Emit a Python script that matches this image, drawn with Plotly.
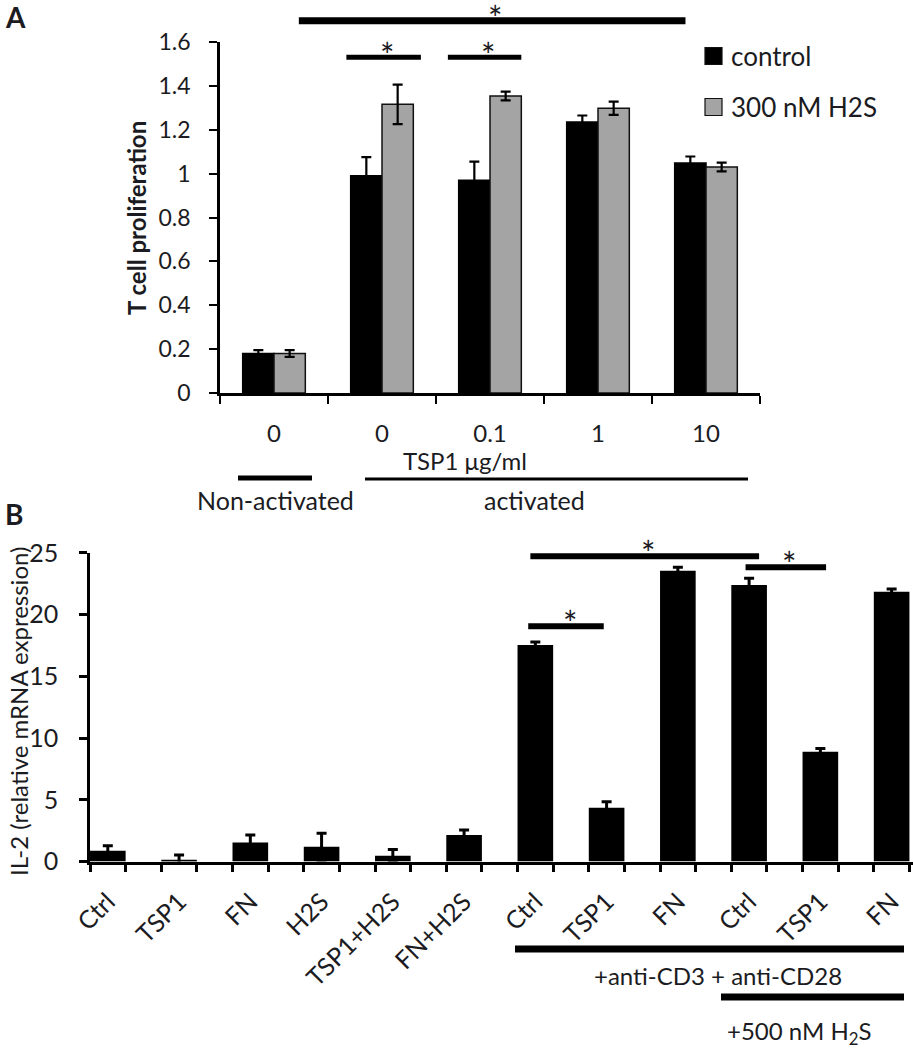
import numpy as np
import plotly.graph_objects as go

# ---------------- Panel A data ----------------
a_labels = ["0", "0", "0.1", "1", "10"]
a_control = [0.18, 0.99, 0.97, 1.235, 1.048]
a_control_err = [0.015, 0.085, 0.085, 0.03, 0.03]
a_h2s = [0.18, 1.316, 1.354, 1.298, 1.03]
a_h2s_err = [0.015, 0.09, 0.02, 0.03, 0.02]
a_series = ["control", "300 nM H2S"]
a_yticks = [0, 0.2, 0.4, 0.6, 0.8, 1, 1.2, 1.4, 1.6]
a_yticklabels = ["0", "0.2", "0.4", "0.6", "0.8", "1", "1.2", "1.4", "1.6"]

# significance comparisons, panel A (x in category units, y in data units)
a_sig_x0 = [0.23, 0.67, 1.61]
a_sig_x1 = [3.81, 1.36, 2.29]
a_sig_y = [1.697, 1.531, 1.531]

# ---------------- Panel B data ----------------
b_labels = ["Ctrl", "TSP1", "FN", "H2S", "TSP1+H2S", "FN+H2S",
            "Ctrl", "TSP1", "FN", "Ctrl", "TSP1", "FN"]
b_values = [0.88, 0.15, 1.53, 1.2, 0.47, 2.15,
            17.53, 4.36, 23.55, 22.39, 8.89, 21.85]
b_err = [0.4, 0.38, 0.62, 1.09, 0.5, 0.4,
         0.25, 0.48, 0.27, 0.55, 0.27, 0.22]
b_yticks = [0, 5, 10, 15, 20, 25]

# significance comparisons, panel B (x in bar-index units, y in data units)
b_sig_i0 = [5.9, 5.93, 8.95]
b_sig_i1 = [6.96, 9.14, 10.08]
b_sig_y = [19.06, 24.72, 23.83]

FONT = "Lato, 'Open Sans', sans-serif"
TXT = "#1b1b22"
W, H = 913, 1050


def PX(p):
    return p / W


def PY(p):
    return 1 - p / H


fig = go.Figure()

xa = np.arange(len(a_labels))
fig.add_trace(go.Bar(
    x=xa, y=a_control, name=a_series[0], xaxis="x", yaxis="y",
    marker=dict(color="#000000", line=dict(color="#000000", width=1.5)),
    error_y=dict(type="data", array=a_control_err, color="#000000", thickness=2.2, width=5),
    showlegend=False))
fig.add_trace(go.Bar(
    x=xa, y=a_h2s, name=a_series[1], xaxis="x", yaxis="y",
    marker=dict(color="#a4a4a4", line=dict(color="#111111", width=1.5)),
    error_y=dict(type="data", array=a_h2s_err, color="#000000", thickness=2.2, width=5),
    showlegend=False))

xb = np.arange(len(b_labels)) * 2
fig.add_trace(go.Bar(
    x=xb, y=b_values, xaxis="x2", yaxis="y2", width=1.0,
    marker=dict(color="#000000", line=dict(width=0)),
    error_y=dict(type="data", array=b_err, color="#000000", thickness=3, width=5),
    showlegend=False))

axis_line = dict(showline=True, linecolor="#000000", linewidth=2.5, showgrid=False,
                 zeroline=False, automargin=False)

fig.update_layout(
    width=W, height=H,
    margin=dict(l=0, r=0, t=0, b=0, autoexpand=False),
    paper_bgcolor="white", plot_bgcolor="white",
    font=dict(family=FONT, color=TXT),
    barmode="group", bargap=0.42, bargroupgap=0.0,
    xaxis=dict(domain=[PX(220), PX(760)], anchor="y", range=[-0.5, 4.5],
               tickmode="array", tickvals=list(xa), ticktext=a_labels, ticks="",
               ticklabelstandoff=17, tickfont=dict(size=24, color=TXT),
               minor=dict(tickmode="array", tickvals=list(np.arange(-0.5, len(a_labels), 1.0)),
                          ticks="outside", ticklen=8, tickwidth=2, tickcolor="#000000"),
               **axis_line),
    yaxis=dict(domain=[PY(393), PY(42)], anchor="x", range=[0, 1.6],
               tickmode="array", tickvals=a_yticks, ticktext=a_yticklabels,
               ticks="outside", ticklen=8, tickwidth=2, tickcolor="#000000",
               ticklabelstandoff=14, tickfont=dict(size=23, color=TXT), **axis_line),
    xaxis2=dict(domain=[PX(90), 1.0], anchor="y2", range=[-0.5, 22.6],
                tickmode="array", tickvals=list(xb), ticktext=b_labels, ticks="",
                tickangle=-45, ticklabelstandoff=13, tickfont=dict(size=25, color=TXT),
                minor=dict(tickmode="array", tickvals=list(np.arange(-0.5, 2*len(b_labels), 1.0)),
                           ticks="outside", ticklen=8, tickwidth=2.5, tickcolor="#000000"),
                **axis_line),
    yaxis2=dict(domain=[PY(861.5), PY(552.8)], anchor="x2", range=[0, 25],
                tickmode="array", tickvals=b_yticks,
                ticks="outside", ticklen=8, tickwidth=2.5, tickcolor="#000000",
                ticklabelstandoff=16, tickfont=dict(size=25, color=TXT), **axis_line),
)

shapes = []
ann = []

# Panel A significance bars and asterisks
a_ymax = 1.6
for x0, x1, y in zip(a_sig_x0, a_sig_x1, a_sig_y):
    thick = 7 if y > a_ymax else 5
    shapes.append(dict(type="line", xref="x", yref="y domain", x0=x0, x1=x1,
                       y0=y / a_ymax, y1=y / a_ymax, line=dict(color="#000000", width=thick)))
    ann.append(dict(xref="x", yref="y domain", x=(x0 + x1) / 2 + 0.03, y=y / a_ymax,
                    xanchor="center", yanchor="middle", yshift=3, text="*",
                    showarrow=False, font=dict(size=34, color=TXT)))

# Panel B significance bars and asterisks
b_ymax = 25
for i0, i1, y in zip(b_sig_i0, b_sig_i1, b_sig_y):
    x0, x1 = 2 * i0, 2 * i1
    shapes.append(dict(type="line", xref="x2", yref="y2 domain", x0=x0, x1=x1,
                       y0=y / b_ymax, y1=y / b_ymax, line=dict(color="#000000", width=6)))
    ann.append(dict(xref="x2", yref="y2 domain", x=(x0 + x1) / 2 + 0.1, y=y / b_ymax,
                    xanchor="center", yanchor="middle", yshift=4, text="*",
                    showarrow=False, font=dict(size=34, color=TXT)))

# Manual legend (panel A)
leg_colors = ["#000000", "#a4a4a4"]
leg_y = [56, 107]
for name, col, py in zip(a_series, leg_colors, leg_y):
    shapes.append(dict(type="rect", xref="paper", yref="paper",
                       x0=PX(705), x1=PX(722), y0=PY(py + 8.5), y1=PY(py - 8.5),
                       fillcolor=col, line=dict(color="#111111", width=1.2)))
    ann.append(dict(xref="paper", yref="paper", x=PX(729), y=PY(py), xanchor="left",
                    yanchor="middle", text=name, showarrow=False,
                    font=dict(size=26, color=TXT)))

# Panel A group lines
shapes.append(dict(type="line", xref="paper", yref="paper", x0=PX(238), x1=PX(312),
                   y0=PY(478), y1=PY(478), line=dict(color="#000000", width=5)))
shapes.append(dict(type="line", xref="paper", yref="paper", x0=PX(365), x1=PX(748),
                   y0=PY(479), y1=PY(479), line=dict(color="#000000", width=3)))

# Panel B group lines
shapes.append(dict(type="line", xref="paper", yref="paper", x0=PX(515), x1=PX(904),
                   y0=PY(949), y1=PY(949), line=dict(color="#000000", width=7)))
shapes.append(dict(type="line", xref="paper", yref="paper", x0=PX(721), x1=PX(904),
                   y0=PY(997), y1=PY(997), line=dict(color="#000000", width=7)))

texts = [
    ("A", 3, 17, 28, True, "left"),
    ("B", 3, 514, 28, True, "left"),
    ("TSP1 μg/ml", 465, 461, 24, False, "center"),
    ("Non-activated", 275, 500, 25, False, "center"),
    ("activated", 534, 500, 25, False, "center"),
    ("+anti-CD3 + anti-CD28", 718, 975, 24, False, "center"),
    ("+500 nM H<sub>2</sub>S", 799, 1032, 24, False, "center"),
]
for t, px, py, sz, bold, xa_ in texts:
    ann.append(dict(xref="paper", yref="paper", x=PX(px), y=PY(py), xanchor=xa_,
                    yanchor="middle", text=f"<b>{t}</b>" if bold else t, showarrow=False,
                    font=dict(size=sz, color=TXT)))

# Axis titles
ann.append(dict(xref="paper", yref="paper", x=PX(137), y=PY(218), textangle=-90,
                xanchor="center", yanchor="middle",
                text="<b>T cell proliferation</b>", showarrow=False,
                font=dict(size=24, color=TXT)))
ann.append(dict(xref="paper", yref="paper", x=PX(18), y=PY(712), textangle=-90,
                xanchor="center", yanchor="middle",
                text="IL-2 (relative mRNA expression)", showarrow=False,
                font=dict(size=24, color=TXT)))

fig.update_layout(shapes=shapes, annotations=ann)

fig.write_html("out.html", config={"displayModeBar": False},
               post_script="document.body.style.margin='0';")
